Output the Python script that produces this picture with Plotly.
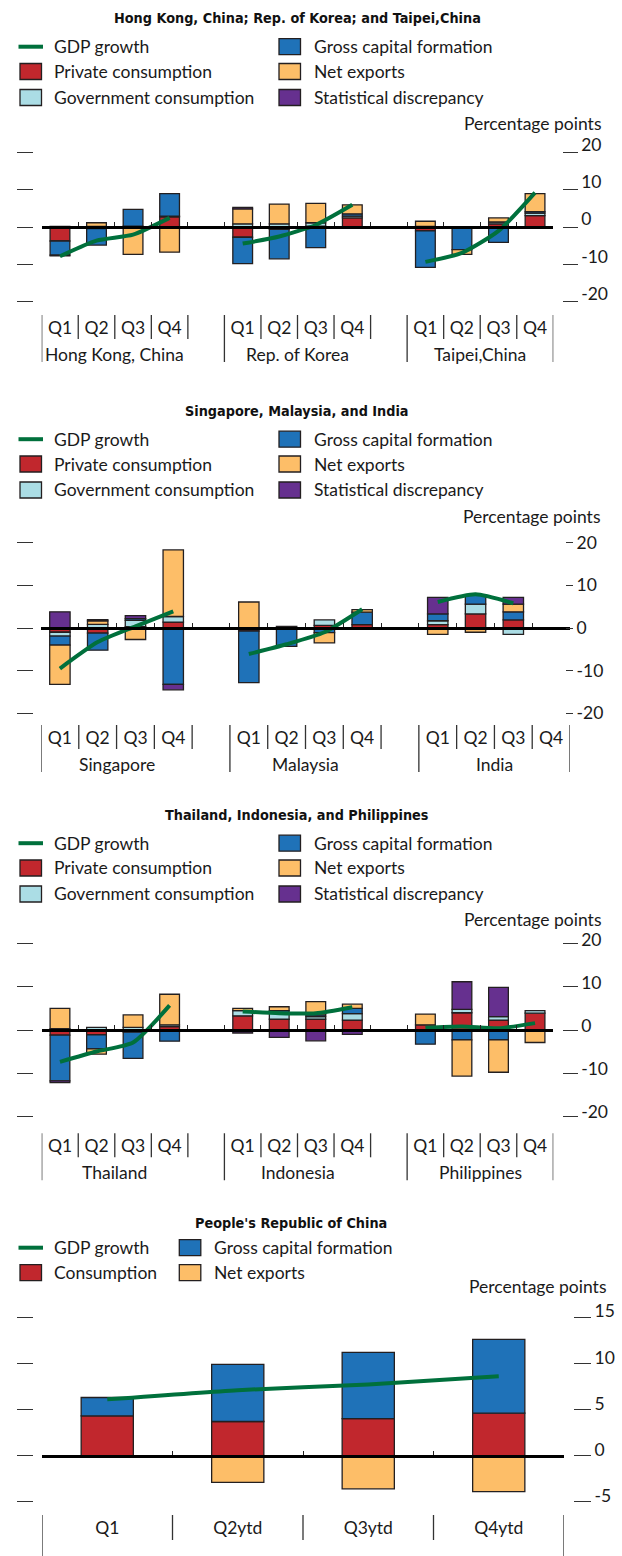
import plotly.graph_objects as go

W, H = 622, 1556

quarters = ["Q1", "Q2", "Q3", "Q4"]

# ---- Hong Kong, China; Rep. of Korea; Taipei,China ----
p1_title = "Hong Kong, China; Rep. of Korea; and Taipei,China"
p1_groups = ["Hong Kong, China", "Rep. of Korea", "Taipei,China"]
p1_gdp = [-7.8, -3.6, -2.0, 2.5, -4.4, -2.5, 0.6, 6.0, -9.3, -6.9, -1.0, 9.3]
p1_private = [-3.7, -0.4, -0.3, 2.8, -2.7, -0.6, 0.3, 2.5, -1.0, 0, 0.9, 3.1]
p1_government = [0.2, 0.2, 0.3, 0.2, 0.9, 0.9, 0.9, 0.5, 0.2, 0, 0.5, 0.7]
p1_capital = [-3.8, -4.4, 4.5, 6.0, -7.1, -7.9, -5.5, 0.6, -9.8, -6.0, -4.1, 0.4]
p1_net_exports = [-0.2, 1.0, -7.0, -6.7, 4.0, 5.3, 5.2, 2.4, 1.4, -1.3, 1.1, 4.8]
p1_discrepancy = [0, 0, 0, 0, 0.4, 0, 0, 0, 0, 0, 0, 0]

# ---- Singapore, Malaysia, India ----
p2_title = "Singapore, Malaysia, and India"
p2_groups = ["Singapore", "Malaysia", "India"]
p2_gdp = [-9.5, -3.3, 0.4, 3.9, -6.1, -3.8, -1.0, 4.4, 6.1, 7.9, 5.8, None]
p2_private = [-1.0, -1.2, 0.3, 1.4, -0.7, 0.4, 0.6, 0.8, 0.8, 3.3, 1.9, None]
p2_government = [-0.9, 0.85, 1.5, 1.3, 0, 0, 1.3, 0, 0.9, 2.3, -1.5, None]
p2_capital = [-2.1, -4.0, 0.4, -13.2, -12.1, -4.3, -1.1, 2.9, 1.6, 2.2, 1.9, None]
p2_net_exports = [-9.2, 0.8, -2.7, 15.6, 6.1, 0, -2.4, 0.6, -1.5, -1.0, 1.8, None]
p2_discrepancy = [3.8, 0.3, 0.7, -1.3, 0, 0, 0, 0, 3.9, 0, 1.6, None]

# ---- Thailand, Indonesia, Philippines ----
p3_title = "Thailand, Indonesia, and Philippines"
p3_groups = ["Thailand", "Indonesia", "Philippines"]
p3_gdp = [-7.4, -5.0, -2.9, 5.7, 4.3, 3.9, 3.9, 5.3, 0.5, 0.8, 0.4, 1.6]
p3_private = [-1.2, -1.1, -0.5, 0.8, 3.3, 2.5, 2.5, 2.3, 1.2, 4.0, 2.3, 3.9]
p3_government = [0.3, 0.6, 0.6, 0.4, 1.2, 1.5, 0.6, 1.5, 0, 0.8, 0.8, 0.6]
p3_capital = [-10.6, -3.3, -6.1, -2.6, 0, 0.5, 0.4, 1.2, -3.3, -2.3, -2.3, 0]
p3_net_exports = [4.7, -1.2, 2.9, 7.1, 0.5, 0.9, 3.1, 1.0, 2.5, -8.4, -7.5, -2.9]
p3_discrepancy = [-0.4, 0, 0, 0, -0.7, -1.7, -2.5, -1.0, 0, 6.4, 6.8, 0]

# ---- People's Republic of China (year to date) ----
p4_title = "People's Republic of China"
p4_periods = ["Q1", "Q2ytd", "Q3ytd", "Q4ytd"]
p4_gdp = [6.1, 7.1, 7.7, 8.6]
p4_consumption = [4.3, 3.7, 4.0, 4.6]
p4_capital = [2.0, 6.2, 7.2, 8.0]
p4_net_exports = [-0.2, -2.9, -3.6, -3.9]

ticks_quarterly = [-20, -10, 0, 10, 20]
ticks_prc = [-5, 0, 5, 10, 15]

RED = "#C1272D"
LBLUE = "#ABDDE5"
BLUE = "#1F72B8"
ORANGE = "#FDBE68"
PURPLE = "#66308F"
GREEN = "#00703C"
EDGE = "#231F20"
TEXT = "#1a1a1a"
FONT = "Lato, 'Noto Sans', sans-serif"
TITLE_FONT = "'DejaVu Sans Condensed', 'Liberation Sans Narrow', sans-serif"
FS = 17.5
TITLE_FS = 14.3


def px_x(v):
    return v / W


def px_y(v):
    return 1 - v / H


def nz(vals):
    return [None if (v is None or v == 0) else v for v in vals]


fig = go.Figure()
shapes = []
annotations = []
axes = {}

# rshift: pixel offset of the right-hand value labels (negative = above the tick)
quarterly_panels = [
    dict(title=p1_title, groups=p1_groups, gdp=p1_gdp,
         series=[("Private consumption", p1_private, RED),
                 ("Government consumption", p1_government, LBLUE),
                 ("Gross capital formation", p1_capital, BLUE),
                 ("Net exports", p1_net_exports, ORANGE),
                 ("Statistical discrepancy", p1_discrepancy, PURPLE)],
         geo=dict(x0=41.7, x1=553.3, ytop=152.7, ybot=301.7, title_y=18.3,
                  rows=[46.7, 71.5, 97.5], pp_y=123.3, pp_x=602.7, lab_top=315,
                  rpos=561.7, rlen=15, rshift=-8)),
    dict(title=p2_title, groups=p2_groups, gdp=p2_gdp,
         series=[("Private consumption", p2_private, RED),
                 ("Government consumption", p2_government, LBLUE),
                 ("Gross capital formation", p2_capital, BLUE),
                 ("Net exports", p2_net_exports, ORANGE),
                 ("Statistical discrepancy", p2_discrepancy, PURPLE)],
         geo=dict(x0=41, x1=570, ytop=542.7, ybot=713.3, title_y=410.8,
                  rows=[439.2, 464.0, 490.0], pp_y=516.7, pp_x=601.7, lab_top=725,
                  rpos=565, rlen=7, rshift=0)),
    dict(title=p3_title, groups=p3_groups, gdp=p3_gdp,
         series=[("Private consumption", p3_private, RED),
                 ("Government consumption", p3_government, LBLUE),
                 ("Gross capital formation", p3_capital, BLUE),
                 ("Net exports", p3_net_exports, ORANGE),
                 ("Statistical discrepancy", p3_discrepancy, PURPLE)],
         geo=dict(x0=41.7, x1=553.3, ytop=943.8, ybot=1116.2, title_y=815.0,
                  rows=[843.2, 868.0, 894.0], pp_y=919, pp_x=602.7, lab_top=1133.3,
                  rpos=561.7, rlen=15, rshift=-4)),
]


def add_legend(entries, rows, col_x, text_x):
    # entries are listed row by row, two per row
    for i, (label, color, kind) in enumerate(entries):
        r, c = divmod(i, 2)
        y = rows[r]
        x0 = col_x[c]
        if kind == "line":
            shapes.append(dict(type="line", xref="paper", yref="paper",
                               x0=px_x(x0 - 1.5), x1=px_x(x0 + 23), y0=px_y(y), y1=px_y(y),
                               line=dict(color=GREEN, width=4)))
        else:
            shapes.append(dict(type="rect", xref="paper", yref="paper",
                               x0=px_x(x0), x1=px_x(x0 + 21.5), y0=px_y(y - 8), y1=px_y(y + 8),
                               fillcolor=color, line=dict(color=EDGE, width=1.3)))
        annotations.append(dict(text=label, xref="paper", yref="paper", x=px_x(text_x[c]),
                                y=px_y(y), xanchor="left", yanchor="middle", showarrow=False,
                                font=dict(family=FONT, size=FS, color=TEXT)))


def panel_axes(k, geo, yr, tickvals, nslots, group_bounds, labels_at, label_text):
    xr = [-0.5, nslots - 0.5]
    dom_x = [px_x(geo["x0"]), px_x(geo["x1"])]
    dom_y = [px_y(geo["ybot"]), px_y(geo["ytop"])]
    zero_px = geo["ybot"] - (0 - yr[0]) / (yr[1] - yr[0]) * (geo["ybot"] - geo["ytop"])
    sx = "" if k == 1 else str(k)
    base_x = "x" if k == 1 else f"x{k}"
    base_y = "y" if k == 1 else f"y{k}"
    axes[f"xaxis{sx}"] = dict(domain=dom_x, range=xr, anchor="free", position=px_y(zero_px),
                              showline=True, linecolor="black", linewidth=2.6,
                              ticks="inside", ticklen=4, tickwidth=1.2, tickcolor="#222",
                              tickvals=[i - 0.5 for i in range(nslots + 1)],
                              showticklabels=False, showgrid=False, zeroline=False,
                              automargin=False, fixedrange=True)
    axes[f"yaxis{sx}"] = dict(domain=dom_y, range=yr, anchor="free", position=px_x(33.3),
                              side="left", ticks="outside", ticklen=16.6, tickwidth=1.3,
                              tickcolor="#333", tickvals=tickvals, showticklabels=False,
                              showgrid=False, zeroline=False, showline=False,
                              automargin=False, fixedrange=True)
    # overlay axes: quarter labels along the bottom, value labels on the right
    axes[f"xaxis{k + 4}"] = dict(overlaying=base_x, range=xr, anchor="free",
                                 position=px_y(geo["lab_top"]), side="bottom",
                                 tickvals=labels_at, ticktext=label_text, ticks="",
                                 tickfont=dict(family=FONT, size=FS, color=TEXT),
                                 showline=False, showgrid=False, zeroline=False,
                                 automargin=False, fixedrange=True)
    axes[f"yaxis{k + 4}"] = dict(overlaying=base_y, range=yr, anchor="free",
                                 position=px_x(geo["rpos"]), side="right",
                                 ticks="outside", ticklen=geo["rlen"], tickwidth=1.3,
                                 tickcolor="#333", tickvals=tickvals,
                                 ticktext=[str(v) for v in tickvals],
                                 ticklabelposition="outside",
                                 ticklabelshift=int(geo["rshift"]),
                                 tickfont=dict(family=FONT, size=FS, color=TEXT),
                                 showgrid=False, zeroline=False, showline=False,
                                 automargin=False, fixedrange=True)
    # separators under the axis
    lt = geo["lab_top"]
    for b in range(nslots + 1):
        xb = b - 0.5
        long_line = xb in group_bounds
        bottom = geo.get("long_bot", lt + 47) if long_line else geo.get("short_bot", lt + 24)
        shapes.append(dict(type="line", xref=base_x, yref="paper", x0=xb, x1=xb,
                           y0=px_y(lt), y1=px_y(bottom),
                           line=dict(color="#333", width=1.3)))
    annotations.append(dict(text="Percentage points", xref="paper", yref="paper",
                            x=px_x(geo["pp_x"]), y=px_y(geo["pp_y"]), xanchor="right",
                            yanchor="middle", showarrow=False,
                            font=dict(family=FONT, size=FS, color=TEXT)))
    return base_x, base_y


for k, pnl in enumerate(quarterly_panels, start=1):
    geo = pnl["geo"]
    groups = pnl["groups"]
    slot = [g * 5 + q for g in range(len(groups)) for q in range(len(quarters))]
    nslots = len(groups) * 5 - 1
    group_bounds = [g * 5 - 0.5 for g in range(len(groups))] + [nslots - 0.5]
    base_x, base_y = panel_axes(k, geo, [ticks_quarterly[0], ticks_quarterly[-1]],
                                ticks_quarterly, nslots, group_bounds,
                                slot, quarters * len(groups))
    for name, vals, color in pnl["series"]:
        fig.add_trace(go.Bar(x=slot, y=nz(vals), name=name, xaxis=base_x, yaxis=base_y,
                             width=0.54, marker=dict(color=color, line=dict(color=EDGE, width=1.3)),
                             showlegend=False))
    # GDP growth line, one segment per economy
    xs, ys = [], []
    for g in range(len(groups)):
        xs += slot[g * 4:(g + 1) * 4] + [None]
        ys += pnl["gdp"][g * 4:(g + 1) * 4] + [None]
    fig.add_trace(go.Scatter(x=xs, y=ys, mode="lines", name="GDP growth",
                             xaxis=f"x{k + 4}", yaxis=f"y{k + 4}",
                             line=dict(color=GREEN, width=4, shape="spline", smoothing=0.6),
                             connectgaps=False, showlegend=False))
    for g, name in enumerate(groups):
        annotations.append(dict(text=name, xref=base_x, yref="paper", x=g * 5 + 1.5,
                                y=px_y(geo["lab_top"] + 39.5), xanchor="center",
                                yanchor="middle", showarrow=False,
                                font=dict(family=FONT, size=FS, color=TEXT)))
    annotations.append(dict(text=f"<b>{pnl['title']}</b>", xref="paper", yref="paper",
                            x=px_x(297), y=px_y(geo["title_y"]), xanchor="center",
                            yanchor="middle", showarrow=False,
                            font=dict(family=TITLE_FONT, size=TITLE_FS, color="#111")))
    add_legend([("GDP growth", GREEN, "line"), ("Gross capital formation", BLUE, "rect"),
                ("Private consumption", RED, "rect"), ("Net exports", ORANGE, "rect"),
                ("Government consumption", LBLUE, "rect"), ("Statistical discrepancy", PURPLE, "rect")],
               geo["rows"], [20, 279], [52.3, 311.7])

# ---- PRC panel ----
geo4 = dict(x0=42, x1=564, ytop=1317.3, ybot=1501.7, title_y=1223.3, rows=[1247.7, 1272.7],
            pp_y=1286, pp_x=608, lab_top=1515, rpos=573, rlen=17, rshift=-6,
            short_bot=1540, long_bot=1556)
slot4 = list(range(len(p4_periods)))
bx, by = panel_axes(4, geo4, [ticks_prc[0], ticks_prc[-1]], ticks_prc, len(p4_periods),
                    [-0.5, len(p4_periods) - 0.5], slot4, p4_periods)
for name, vals, color in [("Consumption", p4_consumption, RED),
                          ("Gross capital formation", p4_capital, BLUE),
                          ("Net exports", p4_net_exports, ORANGE)]:
    fig.add_trace(go.Bar(x=slot4, y=nz(vals), name=name, xaxis=bx, yaxis=by, width=0.4,
                         marker=dict(color=color, line=dict(color=EDGE, width=1.3)),
                         showlegend=False))
fig.add_trace(go.Scatter(x=slot4, y=p4_gdp, mode="lines", name="GDP growth",
                         xaxis="x8", yaxis="y8",
                         line=dict(color=GREEN, width=4, shape="spline", smoothing=0.6),
                         showlegend=False))
annotations.append(dict(text=f"<b>{p4_title}</b>", xref="paper", yref="paper",
                        x=px_x(290.5), y=px_y(geo4["title_y"]), xanchor="center",
                        yanchor="middle", showarrow=False,
                        font=dict(family=TITLE_FONT, size=TITLE_FS, color="#111")))
add_legend([("GDP growth", GREEN, "line"), ("Gross capital formation", BLUE, "rect"),
            ("Consumption", RED, "rect"), ("Net exports", ORANGE, "rect")],
           geo4["rows"], [20, 179.3], [52.3, 212.3])

fig.update_layout(template="none", width=W, height=H, autosize=False,
                  margin=dict(l=0, r=0, t=0, b=0, pad=0),
                  paper_bgcolor="white", plot_bgcolor="rgba(0,0,0,0)",
                  barmode="relative", showlegend=False,
                  font=dict(family=FONT, size=FS, color=TEXT),
                  shapes=shapes, annotations=annotations, **axes)

fig.write_html("out.html")
